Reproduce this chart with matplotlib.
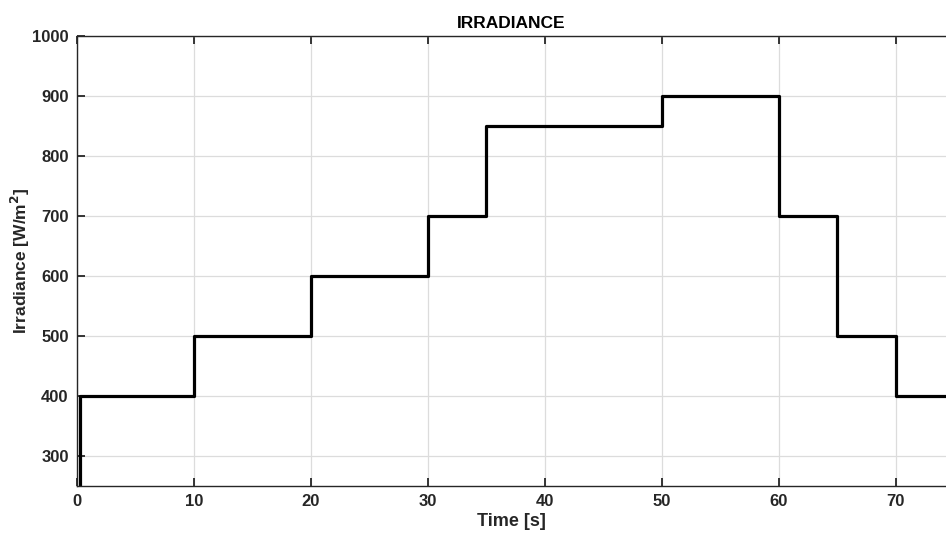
import matplotlib.pyplot as plt
import numpy as np

# step times [s] and irradiance levels [W/m^2]
t_steps = [0, 0.25, 10, 20, 30, 35, 50, 60, 65, 70, 75]
irr_levels = [0, 400, 500, 600, 700, 850, 900, 700, 500, 400, 400]

plt.rcParams['font.family'] = ['Liberation Sans', 'DejaVu Sans']
plt.rcParams['font.weight'] = 'bold'

fig = plt.figure(figsize=(9.46, 5.35), dpi=100)
ax = fig.add_axes([0.0814, 0.0916, 0.9186, 0.8411])

ax.step(t_steps, irr_levels, where='post', color='black', linewidth=2.3)

ax.set_xlim(0, 74.3)
ax.set_ylim(250, 1000)
ax.set_xticks(np.arange(0, 80, 10))
ax.set_yticks(np.arange(300, 1001, 100))
ax.grid(True, color='#dcdcdc', linewidth=0.9)
ax.set_axisbelow(True)
ax.tick_params(direction='in', length=6, width=1.3, top=True, right=False,
               labelsize=12, colors='#262626', pad=6)
for s in ['left', 'bottom', 'top']:
    ax.spines[s].set_color('#262626')
    ax.spines[s].set_linewidth(1.0)
ax.spines['right'].set_visible(False)

ax.set_xlabel('Time [s]', fontsize=13, fontweight='bold', color='#262626', labelpad=3)
ax.set_ylabel('Irradiance [W/m$^\\mathbf{2}$]', fontsize=12.5, fontweight='bold', color='#262626')
ax.yaxis.set_label_coords(-0.052, 0.5)
ax.set_title('IRRADIANCE', fontsize=12.5, fontweight='bold', pad=6)

fig.savefig('out.png', dpi=100)
